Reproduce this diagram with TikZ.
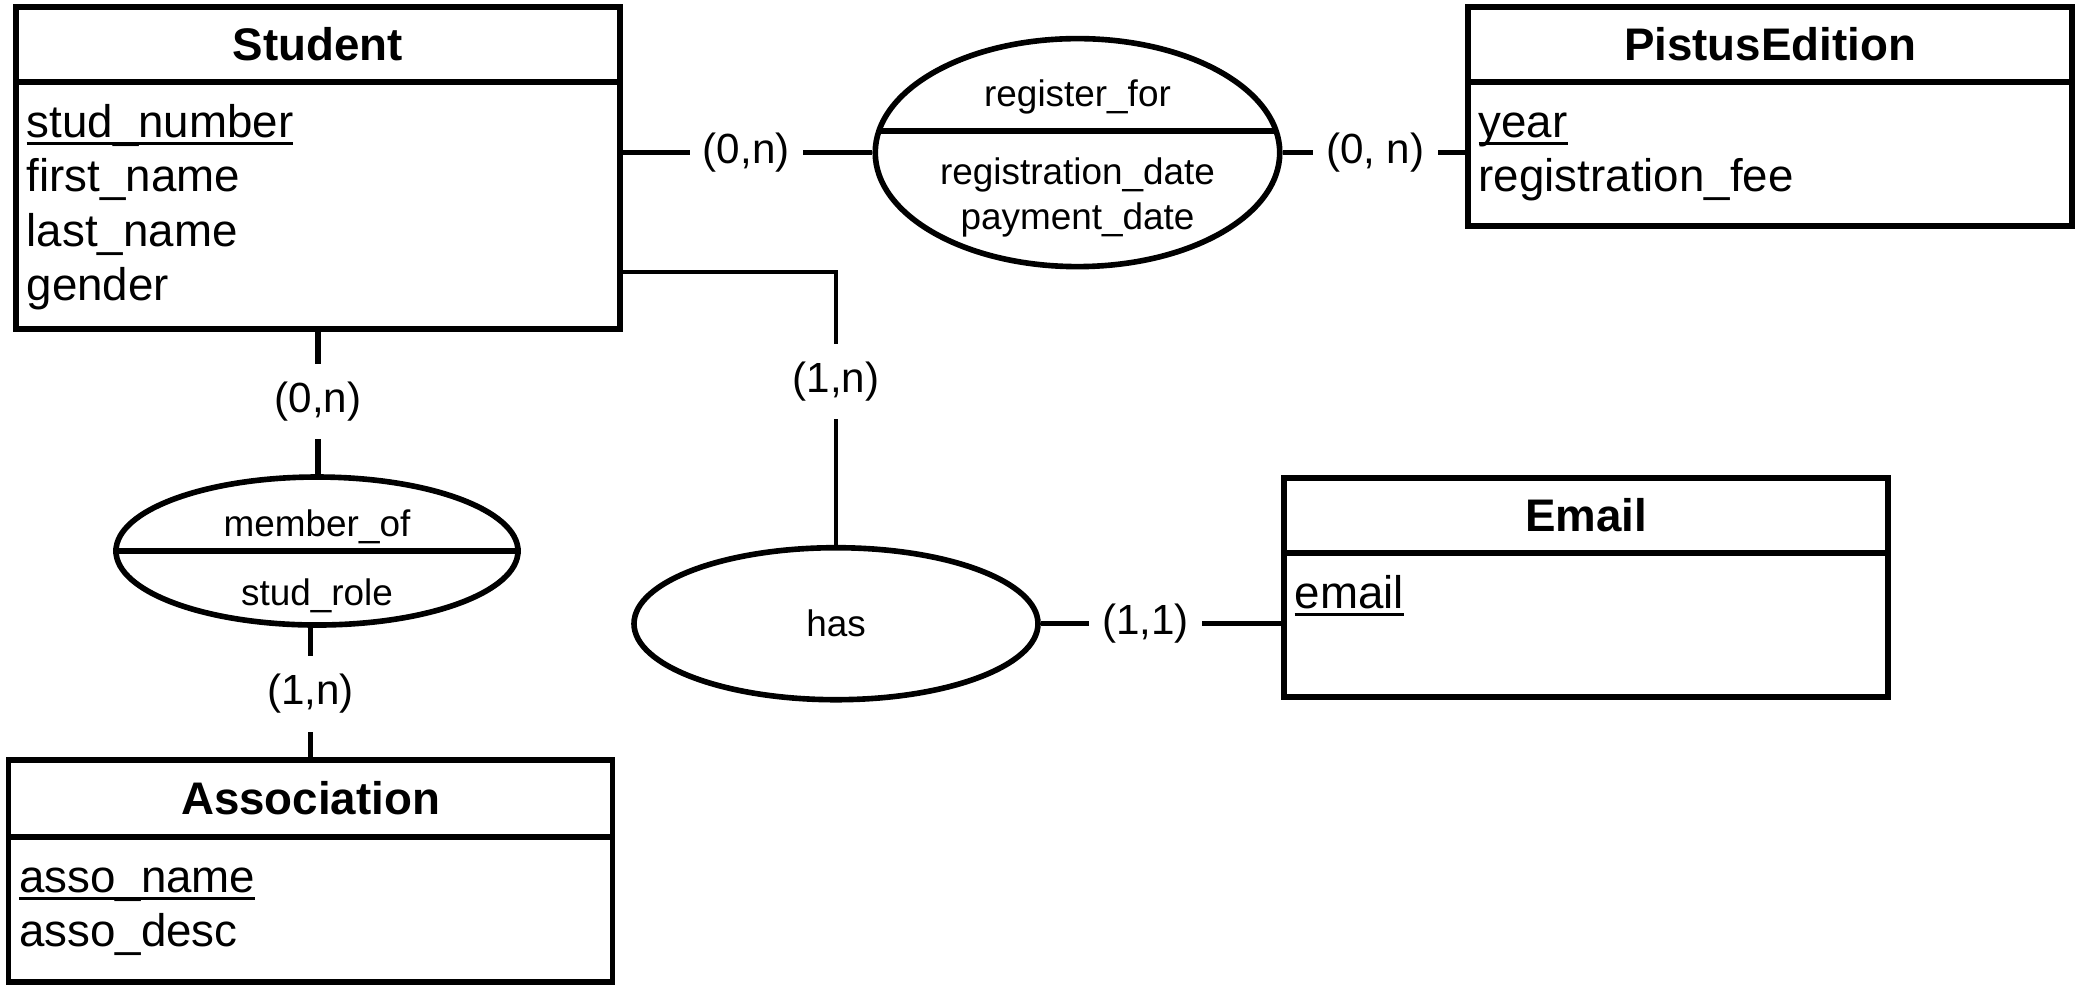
\documentclass[tikz,border=0pt]{standalone}
\usepackage{fontspec}
\setmainfont{Liberation Sans}
\usetikzlibrary{positioning, calc, shapes.geometric}

%% chave primaria: sublinhado rente a linha de base
\newcommand{\pkey}[1]{\setbox0\hbox{#1}\rlap{\rule[-1.9pt]{\wd0}{0.7pt}}\box0\vphantom{d}}

\begin{document}
\begin{tikzpicture}[
  %% entidades (cabecalho + corpo)
  ehead/.style={
    rectangle, draw=black, line width=1.6pt, outer sep=0pt,
    minimum width=6.04cm, minimum height=0.75cm, inner sep=0pt,
    font=\fontsize{13}{15.4}\selectfont\bfseries
  },
  ebody/.style={
    rectangle, draw=black, line width=1.6pt, outer sep=0pt,
    minimum width=6.04cm, inner sep=0pt
  },
  %% atributos das entidades
  attr/.style={
    anchor=north west, inner xsep=0.1cm, inner ysep=0pt,
    align=left, font=\fontsize{13}{15.4}\selectfont
  },
  %% relacionamentos
  rel/.style={
    ellipse, draw=black, line width=1.6pt, inner sep=0pt,
    font=\fontsize{10.5}{12.8}\selectfont
  },
  rtext/.style={align=center, inner sep=0pt, font=\fontsize{10.5}{12.8}\selectfont},
  %% ligacoes e cardinalidades
  conn/.style={line width=1.5pt},
  card/.style={fill=white, inner xsep=0.13cm, inner ysep=0.18cm,
    font=\fontsize{12}{14}\selectfont}
]
\useasboundingbox (0,0) rectangle (20.81,-9.89);

%% ================================================================
%% ENTIDADES
%% ================================================================
\node[ehead] (studhead) at (3.18,-0.445) {Student};
\node[ebody, minimum height=2.47cm, below=0pt of studhead] (studbody) {};
\node[attr] (studattr) at ($(studbody.north west)+(0,-0.22)$)
  {\pkey{stud\_number}\\first\_name\\last\_name\\gender};

\node[ehead] (pishead) at (17.70,-0.445) {PistusEdition};
\node[ebody, minimum height=1.44cm, below=0pt of pishead] (pisbody) {};
\node[attr] (pisattr) at ($(pisbody.north west)+(0,-0.22)$)
  {\pkey{year}\\registration\_fee};

\node[ehead] (emailhead) at (15.86,-5.155) {Email};
\node[ebody, minimum height=1.44cm, below=0pt of emailhead] (emailbody) {};
\node[attr] (emailattr) at ($(emailbody.north west)+(0,-0.22)$)
  {\pkey{email}};

\node[ehead, minimum height=0.77cm] (assohead) at (3.105,-7.985) {Association};
\node[ebody, minimum height=1.45cm, below=0pt of assohead] (assobody) {};
\node[attr] (assoattr) at ($(assobody.north west)+(0,-0.22)$)
  {\pkey{asso\_name}\\asso\_desc};

%% ================================================================
%% RELACIONAMENTOS
%% ================================================================
\node[rel, minimum width=4.045cm, minimum height=2.28cm] (reg) at (10.775,-1.526) {};
\node[rtext] (regname) at ($(reg.center)+(0,0.556)$) {register\_for};
\node[rtext] (regattr) at ($(reg.center)+(0,-0.45)$) {registration\_date\\payment\_date};
\draw[conn] ($(reg.center)+(-1.984,0.215)$) -- ($(reg.center)+(1.984,0.215)$);

\node[rel, minimum width=4.02cm, minimum height=1.48cm] (mem) at (3.17,-5.51) {};
\node[rtext] (memname) at ($(mem.center)+(0,0.24)$) {member\_of};
\node[rtext] (memattr) at ($(mem.center)+(0,-0.45)$) {stud\_role};
\draw[conn] (mem.west) -- (mem.east);

\node[rel, minimum width=4.04cm, minimum height=1.52cm] (has) at (8.36,-6.237) {has};

%% ================================================================
%% LIGACOES
%% ================================================================
\draw[conn] (studbody.east |- reg.west) -- node[card] (c1) {(0,n)} (reg.west);
\draw[conn] (reg.east) -- node[card] (c2) {(0, n)} (reg.east -| pisbody.west);

\coordinate (studhas) at ($(studbody.south east)+(0,0.57)$);
\draw[conn, line width=1pt] (studhas) -| node[card, pos=0.7] (c3) {(1,n)} (has.north);

\draw[conn] (studbody.south) -- node[card] (c4) {(0,n)} (studbody.south |- mem.north);
\draw[conn] (assohead.north |- mem.south) -- node[card] (c5) {(1,n)} (assohead.north);

\draw[conn] (has.east) -- node[card, pos=0.43] (c6) {(1,1)} (has.east -| emailbody.west);

\end{tikzpicture}
\end{document}
